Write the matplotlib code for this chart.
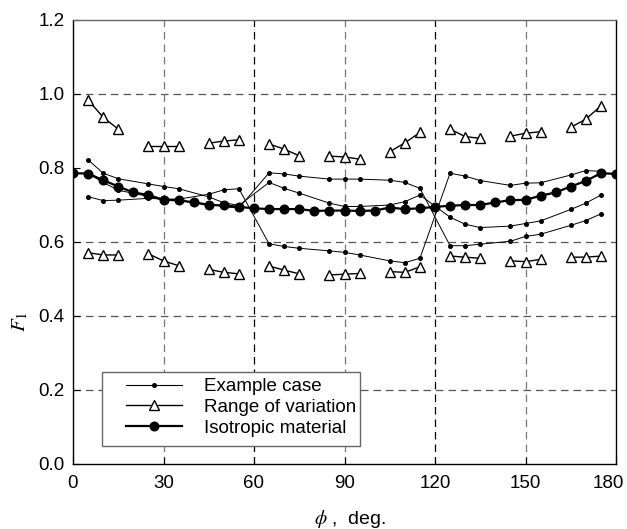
import matplotlib
matplotlib.use("Agg")
import matplotlib.pyplot as plt
import matplotlib.transforms as mtransforms
from matplotlib.lines import Line2D
from matplotlib.patches import Rectangle

plt.rcParams['font.family'] = ['Liberation Sans', 'DejaVu Sans']
plt.rcParams['mathtext.fontset'] = 'stix'

# isotropic material, every 5 deg
iso_x = [0, 5, 10, 15, 20, 25, 30, 35, 40, 45, 50, 55, 60, 65, 70, 75, 80, 85, 90,
         95, 100, 105, 110, 115, 120, 125, 130, 135, 140, 145, 150, 155, 160, 165,
         170, 175, 180]
iso_y = [0.786, 0.785, 0.767, 0.750, 0.734, 0.727, 0.714, 0.713, 0.707, 0.700,
         0.699, 0.695, 0.691, 0.689, 0.689, 0.689, 0.684, 0.685, 0.685, 0.684,
         0.685, 0.693, 0.689, 0.691, 0.695, 0.698, 0.700, 0.700, 0.707, 0.713,
         0.714, 0.725, 0.734, 0.750, 0.765, 0.786, 0.784]

# example case and range of variation share these angles
ex_x = [5, 10, 15, 25, 30, 35, 45, 50, 55, 65, 70, 75, 85, 90, 95, 105, 110, 115,
        125, 130, 135, 145, 150, 155, 165, 170, 175]
ex_a = [0.822, 0.786, 0.771, 0.757, 0.750, 0.744, 0.722, 0.706, 0.699,
        0.761, 0.745, 0.732, 0.705, 0.696, 0.696, 0.700, 0.709, 0.727,
        0.667, 0.648, 0.639, 0.643, 0.650, 0.657, 0.688, 0.705, 0.727]
ex_b = [0.7225, 0.712, 0.713, 0.718, 0.716, 0.716, 0.729, 0.741, 0.744,
        0.595, 0.588, 0.583, 0.576, 0.572, 0.565, 0.549, 0.544, 0.556,
        0.786, 0.778, 0.766, 0.753, 0.759, 0.760, 0.781, 0.793, 0.791]
ex_c = [0.785, 0.761, 0.740, 0.723, 0.713, 0.711, 0.703, 0.695, 0.692,
        0.787, 0.784, 0.778, 0.770, 0.770, 0.770, 0.767, 0.761, 0.745,
        0.590, 0.590, 0.594, 0.602, 0.615, 0.621, 0.645, 0.658, 0.676]

range_hi = [0.984, 0.937, 0.905, 0.859, 0.859, 0.859, 0.867, 0.873, 0.876,
            0.865, 0.851, 0.833, 0.832, 0.830, 0.824, 0.844, 0.868, 0.896,
            0.905, 0.885, 0.880, 0.886, 0.894, 0.898, 0.910, 0.932, 0.968]
range_lo = [0.571, 0.565, 0.565, 0.568, 0.549, 0.536, 0.526, 0.518, 0.514,
            0.535, 0.524, 0.514, 0.511, 0.513, 0.515, 0.520, 0.518, 0.533,
            0.562, 0.559, 0.556, 0.549, 0.547, 0.553, 0.559, 0.559, 0.562]

legend_labels = ["Example case", "Range of variation", "Isotropic material"]

fig = plt.figure(figsize=(6.27, 5.29), dpi=100)
ax = fig.add_axes([73 / 627, 65 / 529, 543 / 627, 444 / 529])

# grid lines (no line at 0.8)
for yv in [0.2, 0.4, 0.6, 1.0]:
    ax.axhline(yv, color='#555555', lw=0.9, dashes=(6, 4), zorder=1)
for xv in [30, 90, 150]:
    ax.axvline(xv, color='#777777', lw=0.9, dashes=(6, 4), zorder=1)
for xv in [60, 120]:
    ax.axvline(xv, color='black', lw=0.9, dashes=(6, 4), zorder=1)

for ys in [ex_a, ex_b, ex_c]:
    ax.plot(ex_x, ys, color='black', lw=0.7, marker='o', ms=2.6, zorder=3)

for ys in [range_hi, range_lo]:
    for i in range(0, len(ex_x), 3):
        ax.plot(ex_x[i:i + 3], ys[i:i + 3], color='black', lw=1.0, marker='^',
                ms=7.5, mfc='white', mec='black', mew=1.0, zorder=4)

ax.plot(iso_x, iso_y, color='black', lw=1.6, marker='o', ms=6.2, zorder=5)

ax.set_xlim(0, 180)
ax.set_ylim(0, 1.2)
ax.set_xticks([0, 30, 60, 90, 120, 150, 180])
ax.set_yticks([0.0, 0.2, 0.4, 0.6, 0.8, 1.0, 1.2])
ax.set_yticklabels(["%.1f" % v for v in ax.get_yticks()])
ax.tick_params(direction='in', length=5, labelsize=13.5)
ax.tick_params(axis='x', pad=8)
ax.tick_params(axis='y', pad=6)
for s in ax.spines.values():
    s.set_linewidth(1.0)
ax.spines['top'].set_color('#666666')

# last x label sits a bit left so it stays inside the picture
shift = mtransforms.ScaledTranslation(-8 / 100, 0, fig.dpi_scale_trans)
last = ax.get_xticklabels()[-1]
last.set_transform(last.get_transform() + shift)

ax.set_ylabel("$F_1$", fontsize=15)
ax.yaxis.set_label_coords(-0.08, 0.32)
ax.set_xlabel("$\\phi$ ,  deg.", fontsize=14)
ax.xaxis.set_label_coords(0.51, -0.098)

# legend box drawn by hand, legend itself without frame
box = Rectangle((29 / 543, 18 / 444), 258 / 543, 74 / 444, transform=ax.transAxes,
                facecolor='white', edgecolor='#666666', lw=1.0, zorder=6)
ax.add_patch(box)
handles = [
    Line2D([], [], color='black', lw=0.8, marker='o', ms=2.6),
    Line2D([], [], color='black', lw=1.0, marker='^', ms=7, mfc='white', mec='black'),
    Line2D([], [], color='black', lw=1.6, marker='o', ms=6.2),
]
leg = ax.legend(handles, legend_labels, loc='upper left',
                bbox_to_anchor=(53 / 543, 86 / 444), frameon=False, fontsize=13.5,
                borderpad=0, borderaxespad=0, handlelength=3.0, handletextpad=1.15,
                labelspacing=0.2, numpoints=1)
leg.set_zorder(7)

fig.savefig("out.png", dpi=100)
